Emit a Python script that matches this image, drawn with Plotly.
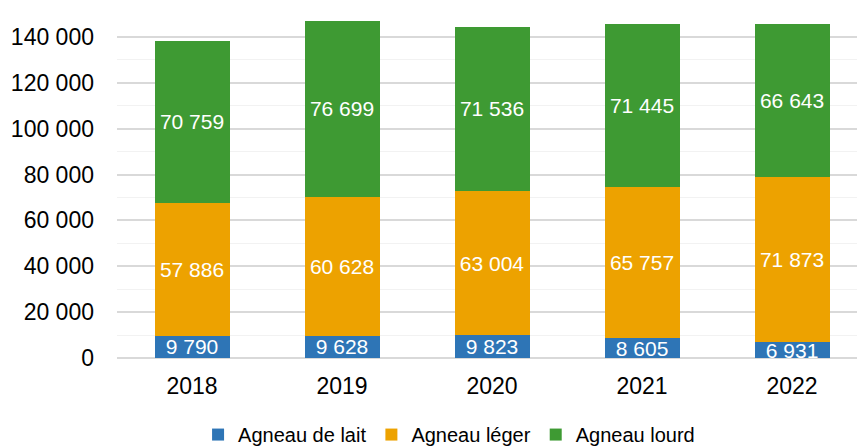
import plotly.graph_objects as go

years = ["2018", "2019", "2020", "2021", "2022"]
lait = [9790, 9628, 9823, 8605, 6931]
leger = [57886, 60628, 63004, 65757, 71873]
lourd = [70759, 76699, 71536, 71445, 66643]

series = [
    ("Agneau de lait", lait, "#2E75B6"),
    ("Agneau léger", leger, "#EDA200"),
    ("Agneau lourd", lourd, "#3E9A33"),
]

fig = go.Figure()
for name, vals, col in series:
    fig.add_trace(go.Bar(
        x=years, y=vals, name=name, marker_color=col, marker_line_width=0,
        texttemplate="%{y:,d}", textposition="inside", insidetextanchor="middle",
        textfont=dict(color="white", size=21, family="Liberation Sans Narrow, Arial Narrow, Liberation Sans, Arial"),
        width=0.5,
    ))

fig.update_layout(
    barmode="stack",
    width=857, height=448,
    margin=dict(l=117, r=0, t=14, b=90, autoexpand=False),
    separators=", ",
    plot_bgcolor="white", paper_bgcolor="white",
    font=dict(family="Liberation Sans, Arial", size=23, color="black"),
    uniformtext=dict(minsize=21, mode="show"),
    legend=dict(orientation="h", xref="container", x=0.524, xanchor="center",
                yref="container", y=0.03, yanchor="middle",
                font=dict(size=20), itemwidth=30, traceorder="normal"),
    xaxis=dict(range=[-0.5, 4.433], showline=False, ticks="", tickfont=dict(size=23),
               ticklabelstandoff=12),
    yaxis=dict(range=[0, 150000], dtick=20000, tickformat=",d", showgrid=True,
               gridcolor="#D9D9D9", gridwidth=1.5, zeroline=True, zerolinecolor="#D9D9D9",
               zerolinewidth=1.5, ticklabelstandoff=22, tickfont=dict(size=23),
               minor=dict(dtick=10000, showgrid=True, gridcolor="#F2F2F2", gridwidth=1.3)),
)
fig.write_html("out.html", config={"displayModeBar": False},
               post_script="document.body.style.margin='0';document.body.style.overflow='hidden';")
